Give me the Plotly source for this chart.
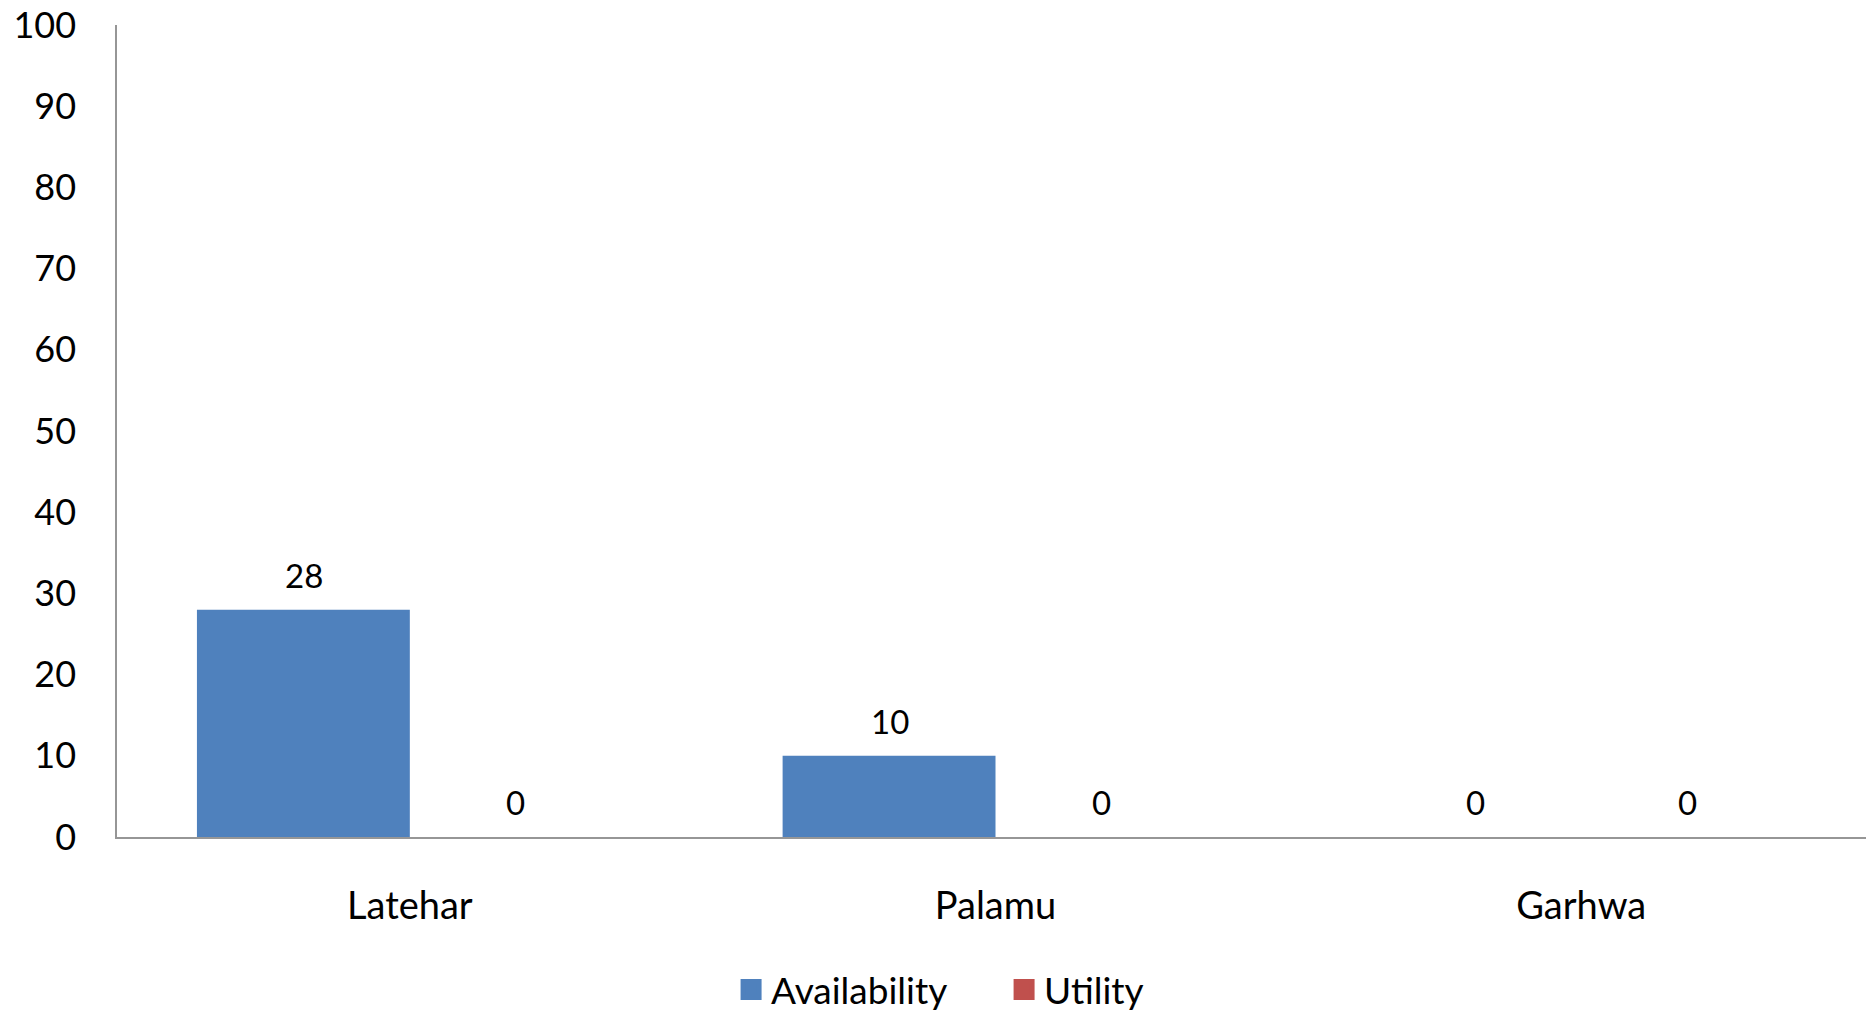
import plotly.graph_objects as go

categories = ["Latehar", "Palamu", "Garhwa"]
availability = [28, 10, 0]
utility = [0, 0, 0]
series_names = ["Availability", "Utility"]
y_ticks = [0, 10, 20, 30, 40, 50, 60, 70, 80, 90, 100]

BLUE = "#4F81BD"
RED = "#C0504D"
AXIS = "#969696"
FONT = "Lato"

fig = go.Figure()
fig.add_trace(go.Bar(x=categories, y=availability, name=series_names[0],
                     showlegend=False,
                     marker=dict(color=BLUE, line=dict(width=0))))
fig.add_trace(go.Bar(x=categories, y=utility, name=series_names[1],
                     showlegend=False,
                     marker=dict(color=RED, line=dict(width=0))))

# legend entries (square swatches)
for name, col in zip(series_names, (BLUE, RED)):
    fig.add_trace(go.Scatter(x=[None], y=[None], mode="markers", name=name,
                             marker=dict(symbol="square", size=16, color=col,
                                         line=dict(color=col, width=5))))

# data labels above each bar
bar_half = 106
for vals, shift in ((availability, -bar_half), (utility, bar_half)):
    for c, v in zip(categories, vals):
        fig.add_annotation(x=c, y=v, xref="x", yref="y", text=str(v),
                           showarrow=False, xshift=shift, yshift=13,
                           yanchor="bottom",
                           font=dict(family=FONT, size=33, color="#000000"))

fig.update_layout(
    width=1866, height=1003,
    paper_bgcolor="white", plot_bgcolor="white",
    margin=dict(l=109, r=0, t=17, b=174, autoexpand=False),
    barmode="group", bargap=0.273, bargroupgap=0,
    font=dict(family=FONT, color="#000000"),
    showlegend=True,
    legend=dict(orientation="h", xref="container", yref="container",
                x=0.3875, xanchor="left", y=0.021, yanchor="middle",
                entrywidth=228, entrywidthmode="pixels",
                font=dict(family=FONT, size=37, color="#000000"),
                bgcolor="rgba(0,0,0,0)"),
)
fig.update_yaxes(range=[0, 100], tickvals=y_ticks, showgrid=False,
                 zeroline=False, showline=True, linecolor=AXIS, linewidth=1.5,
                 ticks="", ticklabelstandoff=32, automargin=False,
                 ticklabeloverflow="allow",
                 tickfont=dict(family=FONT, size=36, color="#000000"))
fig.update_xaxes(showgrid=False, zeroline=False, showline=True,
                 linecolor=AXIS, linewidth=1.5, ticks="",
                 ticklabelstandoff=35, automargin=False,
                 ticklabeloverflow="allow",
                 tickfont=dict(family=FONT, size=38, color="#000000"))

fig.write_html("out.html")
